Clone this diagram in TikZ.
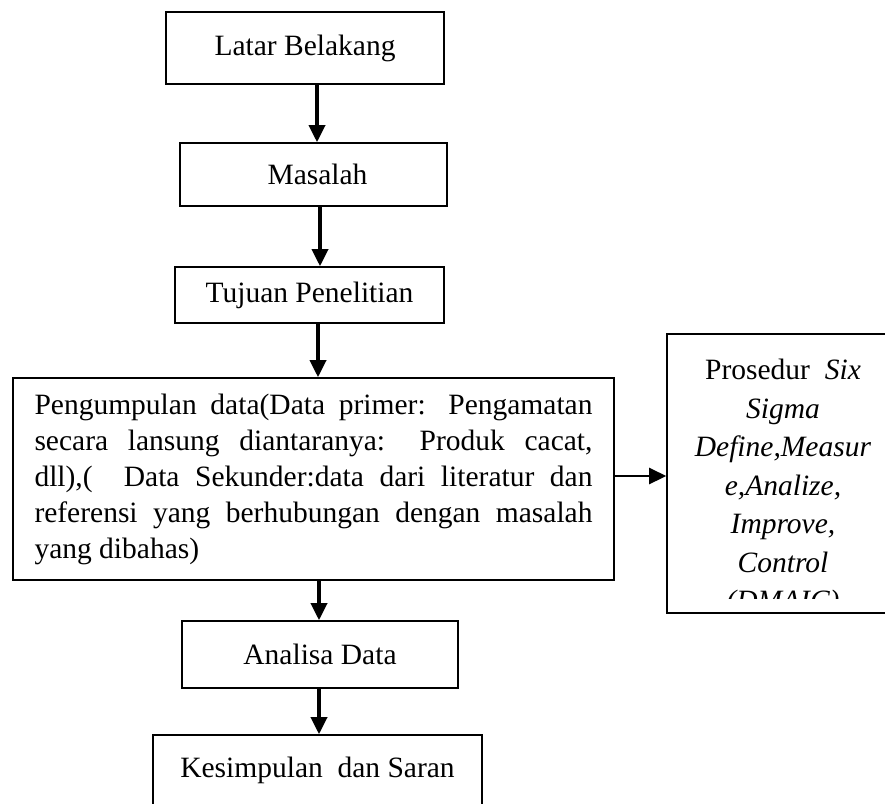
\documentclass[tikz,border=0pt]{standalone}
\usepackage{fontspec}
\setmainfont{Liberation Serif}
\usetikzlibrary{arrows.meta}
\begin{document}
\begin{tikzpicture}[x=1pt,y=-1pt,
  box/.style={draw, line width=1.6pt, inner sep=0pt, font=\fontsize{29.5}{36}\selectfont},
  flow/.style={line width=3.5pt, -{Triangle[length=17pt,width=16pt]}},
  side/.style={line width=2.5pt, -{Triangle[length=17pt,width=16pt]}}]
\clip (0,0) rectangle (885,803);
\fill[white] (0,0) rectangle (885,803);
% boxes
\node[box, minimum width=278, minimum height=72] (lat) at (305,48) {Latar Belakang};
\node[box, minimum width=267, minimum height=63] (mas) at (313.5,174.5) {\hspace*{8pt}Masalah};
\node[box, minimum width=269, minimum height=56] (tuj) at (309.5,295) {Tujuan Penelitian};
\node[box, minimum width=601, minimum height=202, text width=558, align=justify] (big) at (313.5,479)
  {\hyphenpenalty=10000\hbadness=10000\tolerance=10000
   Pengumpulan data(Data primer: Pengamatan\linebreak
   secara lansung diantaranya: Produk cacat,\linebreak
   dll),(\ \ Data Sekunder:data dari literatur dan\linebreak
   referensi yang berhubungan dengan masalah\linebreak
   yang dibahas)};
\node[box, minimum width=232, minimum height=279] (rt) at (783,473.5) {};
\begin{scope}
  \clip (668,335) rectangle (885,598);
  \node[anchor=north, inner sep=0pt, align=center, font=\fontsize{29.5}{38.5}\selectfont] (rtt) at (783,359)
    {Prosedur\ \ \textit{Six}\\ \textit{Sigma}\\ \textit{Define,Measur}\\ \textit{e,Analize,}\\ \textit{Improve,}\\ \textit{Control}\\ \textit{(DMAIC)}};
\end{scope}
\node[box, minimum width=276, minimum height=67] (ana) at (320,654.5) {Analisa Data};
\node[box, minimum width=329, minimum height=70] (kes) at (317.5,770) {Kesimpulan\ \ dan Saran};
% connector columns
\coordinate (c1) at (317,0);
\coordinate (c2) at (320,0);
\coordinate (c3) at (318,0);
\coordinate (c4) at (319,0);
\coordinate (r1) at (0,476);
\draw[flow] (lat.south -| c1) -- (mas.north -| c1);
\draw[flow] (mas.south -| c2) -- (tuj.north -| c2);
\draw[flow] (tuj.south -| c3) -- (big.north -| c3);
\draw[flow] (big.south -| c4) -- (ana.north -| c4);
\draw[flow] (ana.south -| c4) -- (kes.north -| c4);
\draw[side] (big.east |- r1) -- (rt.west |- r1);
\end{tikzpicture}
\end{document}
